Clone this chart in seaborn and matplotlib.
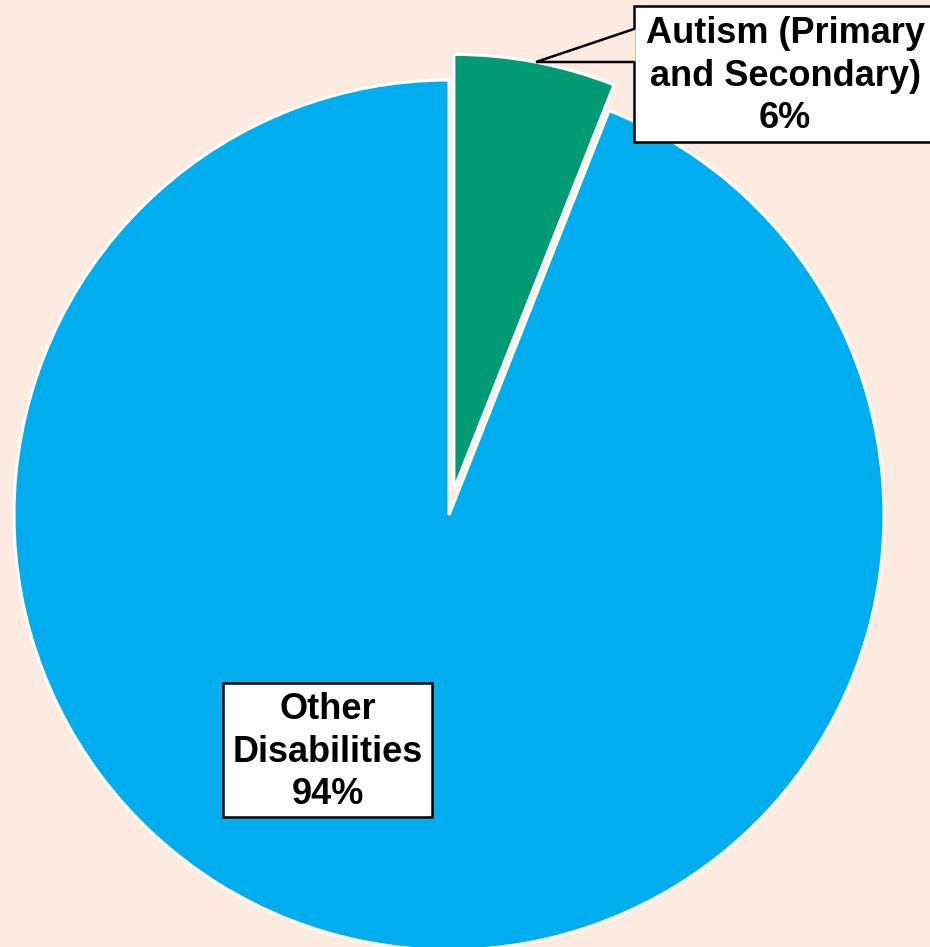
import matplotlib
matplotlib.use("Agg")
import matplotlib.pyplot as plt
import seaborn as sns
from matplotlib.patches import Rectangle, Polygon

sns.set_theme(style="white")
plt.rcParams['font.family'] = ['Liberation Sans', 'DejaVu Sans']

categories = ["Autism (Primary\nand Secondary)", "Other\nDisabilities"]
values = [6, 94]
colors = ["#009B74", "#00AEEF"]
bg = "#FDEBE1"

W, H = 930, 947
CX, CY, R = 449, 515, 435  # pixel geometry of pie


def px(x, y):
    return (x - CX) / R, (CY - y) / R


fig = plt.figure(figsize=(W / 100, H / 100), dpi=100, facecolor=bg)
ax = fig.add_axes([0, 0, 1, 1])
ax.set_facecolor(bg)

ax.pie(values, colors=colors, startangle=90, counterclock=False,
       explode=[0.06, 0], radius=1,
       wedgeprops=dict(edgecolor='white', linewidth=2.2))

ax.set_aspect('auto')
ax.set_xlim(-CX / R, (W - CX) / R)
ax.set_ylim(-(H - CY) / R, CY / R)
ax.axis('off')

# Autism callout
x0, y0 = px(634, 6)
x1, y1 = px(940, 142)
ax.add_patch(Rectangle((x0, y1), x1 - x0, y0 - y1, facecolor='white',
                       edgecolor='black', linewidth=1.8, zorder=5, clip_on=False))
tip = px(536, 62)
a = px(634, 29)
b = px(634, 62)
ax.add_patch(Polygon([tip, (a[0] + 0.004, a[1]), (b[0] + 0.004, b[1])], closed=True,
                     facecolor=bg, edgecolor='none', zorder=6))
ax.plot([a[0], tip[0], b[0]], [a[1], tip[1], b[1]], color='black', lw=1.8,
        zorder=7, solid_joinstyle='miter')
tx, ty = px(785, 76)
ax.text(tx, ty, f"{categories[0]}\n{values[0]}%", ha='center', va='center',
        fontsize=26, fontweight='bold', linespacing=1.27, zorder=8, color='black')

# Other callout
x0, y0 = px(223, 683)
x1, y1 = px(432, 817)
ax.add_patch(Rectangle((x0, y1), x1 - x0, y0 - y1, facecolor='white',
                       edgecolor='black', linewidth=1.8, zorder=5))
tx, ty = px(327.5, 752)
ax.text(tx, ty, f"{categories[1]}\n{values[1]}%", ha='center', va='center',
        fontsize=26, fontweight='bold', linespacing=1.27, zorder=8, color='black')

fig.savefig("out.png", dpi=100, facecolor=bg)
